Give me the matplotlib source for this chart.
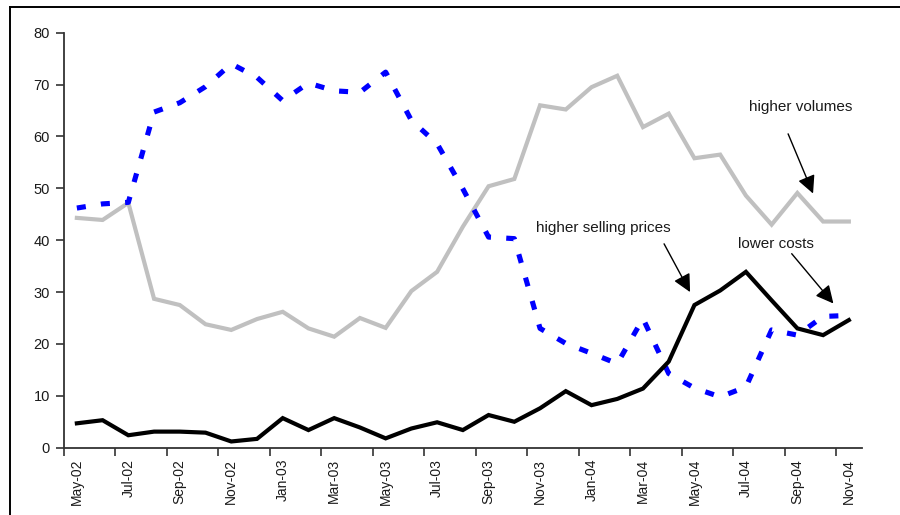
import matplotlib
matplotlib.use("Agg")
import matplotlib.pyplot as plt
from matplotlib.lines import Line2D
import numpy as np

plt.rcParams['font.family'] = ['Liberation Sans', 'DejaVu Sans']
plt.rcParams['lines.scale_dashes'] = False

# Monthly observations, May-02 .. Nov-04
months = ['May-02', 'Jun-02', 'Jul-02', 'Aug-02', 'Sep-02', 'Oct-02', 'Nov-02', 'Dec-02',
          'Jan-03', 'Feb-03', 'Mar-03', 'Apr-03', 'May-03', 'Jun-03', 'Jul-03', 'Aug-03',
          'Sep-03', 'Oct-03', 'Nov-03', 'Dec-03', 'Jan-04', 'Feb-04', 'Mar-04', 'Apr-04',
          'May-04', 'Jun-04', 'Jul-04', 'Aug-04', 'Sep-04', 'Oct-04', 'Nov-04']

higher_volumes = [44.3, 43.9, 47.2, 28.7, 27.5, 23.8, 22.7, 24.8,
                  26.2, 23.0, 21.4, 25.0, 23.1, 30.2, 33.9, 42.6,
                  50.4, 51.8, 66.0, 65.2, 69.5, 71.7, 61.8, 64.4,
                  55.8, 56.5, 48.6, 43.0, 49.1, 43.6, 43.6]

lower_costs = [46.2, 47.0, 47.3, 64.7, 66.5, 69.6, 74.0, 71.4,
               66.9, 70.3, 68.8, 68.5, 72.4, 63.1, 58.6, 49.9,
               40.6, 40.3, 23.0, 20.1, 18.2, 16.2, 24.9, 14.3,
               11.5, 9.8, 11.7, 22.7, 21.7, 25.3, 25.5]

higher_selling_prices = [4.7, 5.3, 2.4, 3.1, 3.1, 2.9, 1.2, 1.7,
                         5.7, 3.4, 5.7, 3.9, 1.8, 3.7, 4.9, 3.4,
                         6.3, 5.0, 7.6, 10.9, 8.2, 9.4, 11.4, 16.6,
                         27.5, 30.3, 33.9, 28.4, 23.0, 21.7, 24.6]

y_ticks = [0, 10, 20, 30, 40, 50, 60, 70, 80]

fig = plt.figure(figsize=(9.0, 5.15), dpi=100)
ax = fig.add_axes([64 / 900, 1 - 447.7 / 515, (861.7 - 64) / 900, (447.7 - 32.7) / 515])

x = np.arange(len(months))
ax.plot(x, higher_volumes, color='#c0c0c0', lw=3.0, solid_joinstyle='miter', zorder=2)
ax.plot(x, lower_costs, color='#0000ff', lw=3.7, dashes=(6.5, 11.0),
        dash_capstyle='butt', zorder=3)
ax.plot(x, higher_selling_prices, color='black', lw=3.0, solid_joinstyle='miter', zorder=4)

ax.set_xlim(-0.5, len(months) - 0.5)
ax.set_ylim(0, 80)

# tick marks sit between categories, labels on every other month
ax.set_xticks(np.arange(-0.5, len(months) - 1, 2))
ax.set_xticklabels([])
ax.set_xticks(x[::2], minor=True)
ax.set_xticklabels(months[::2], minor=True, rotation=90, fontsize=10, color='#1a1a1a')
ax.tick_params(axis='x', which='major', direction='out', length=6, width=1.2, color='#333333')
ax.tick_params(axis='x', which='minor', length=0, pad=8)

ax.set_yticks(y_ticks)
ax.set_yticklabels([str(v) for v in y_ticks], fontsize=10.5, color='#1a1a1a')
ax.tick_params(axis='y', direction='out', length=6, width=1.2, color='#333333', pad=4)

for side in ('top', 'right'):
    ax.spines[side].set_visible(False)
for side in ('left', 'bottom'):
    ax.spines[side].set_color('#333333')
    ax.spines[side].set_linewidth(1.3)

arrow = dict(arrowstyle='-|>,head_length=0.9,head_width=0.45', color='black', lw=1.0,
             mutation_scale=12, shrinkA=0, shrinkB=0)

ax.text(28.12, 65.7, 'higher volumes', ha='center', va='center', fontsize=11, color='#1a1a1a')
ax.annotate('', xy=(28.61, 49.0), xytext=(27.64, 60.5), arrowprops=arrow)

ax.text(20.46, 42.4, 'higher selling prices', ha='center', va='center', fontsize=11, color='#1a1a1a')
ax.annotate('', xy=(23.83, 30.0), xytext=(22.82, 39.3), arrowprops=arrow)

ax.text(27.16, 39.3, 'lower costs', ha='center', va='center', fontsize=11, color='#1a1a1a')
ax.annotate('', xy=(29.40, 27.8), xytext=(27.78, 37.4), arrowprops=arrow)

# chart frame (top and left edges)
fig.add_artist(Line2D([10 / 900, 1.0], [1 - 7 / 515, 1 - 7 / 515],
                      transform=fig.transFigure, color='black', lw=1.4))
fig.add_artist(Line2D([10 / 900, 10 / 900], [1 - 7 / 515, 0.0],
                      transform=fig.transFigure, color='black', lw=1.4))

fig.savefig('out.png', dpi=100, facecolor='white')
